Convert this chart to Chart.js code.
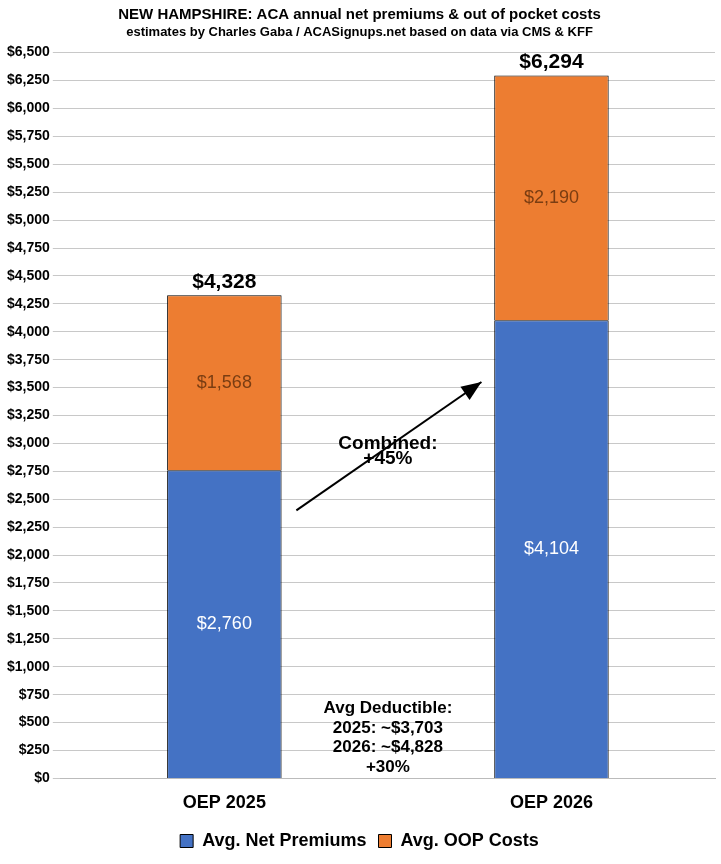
<!DOCTYPE html>
<html>
<head>
<meta charset="utf-8">
<script src="https://cdn.jsdelivr.net/npm/chart.js@4"></script>
<style>
  html, body { margin: 0; padding: 0; background: #fff; }
  #wrap { width: 721px; height: 864px; }
</style>
</head>
<body>
<div id="wrap"><canvas id="myChart" width="721" height="864"></canvas></div>
<script>
const categories = ['OEP 2025', 'OEP 2026'];
const netPremiums = [2760, 4104];
const oopCosts = [1568, 2190];
const totals = [4328, 6294];
const deductibleLines = ['Avg Deductible:', '2025: ~$3,703', '2026: ~$4,828', '+30%'];

const money = v => '$' + v.toLocaleString('en-US');
const FONT = '"Liberation Sans", Arial, sans-serif';

const extras = {
  id: 'extras',
  afterDatasetsDraw(chart) {
    const ctx = chart.ctx;
    const x = chart.scales.x, y = chart.scales.y;
    ctx.save();
    ctx.textAlign = 'center';
    ctx.textBaseline = 'middle';
    // segment labels
    ctx.font = '18px ' + FONT;
    for (let i = 0; i < categories.length; i++) {
      const cx = x.getPixelForValue(i);
      ctx.fillStyle = '#ffffff';
      ctx.fillText(money(netPremiums[i]), cx, y.getPixelForValue(netPremiums[i] / 2));
      ctx.fillStyle = '#7a3d12';
      ctx.fillText(money(oopCosts[i]), cx, y.getPixelForValue(netPremiums[i] + oopCosts[i] / 2));
      ctx.fillStyle = '#000';
      ctx.font = 'bold 21px ' + FONT;
      ctx.fillText(money(totals[i]), cx, y.getPixelForValue(totals[i]) - 13);
      ctx.font = '18px ' + FONT;
    }
    // arrow
    const x0 = x.getPixelForValue(0) + 72, y0 = y.getPixelForValue(2400);
    const x1 = x.getPixelForValue(1) - 70, y1 = y.getPixelForValue(3550);
    ctx.strokeStyle = '#000';
    ctx.lineWidth = 2;
    ctx.beginPath(); ctx.moveTo(x0, y0); ctx.lineTo(x1, y1); ctx.stroke();
    const a = Math.atan2(y1 - y0, x1 - x0);
    ctx.fillStyle = '#000';
    ctx.beginPath();
    ctx.moveTo(x1, y1);
    ctx.lineTo(x1 - 20 * Math.cos(a) + 8 * Math.sin(a), y1 - 20 * Math.sin(a) - 8 * Math.cos(a));
    ctx.lineTo(x1 - 20 * Math.cos(a) - 8 * Math.sin(a), y1 - 20 * Math.sin(a) + 8 * Math.cos(a));
    ctx.closePath(); ctx.fill();
    const mx = (x.getPixelForValue(0) + x.getPixelForValue(1)) / 2 + 0;
    ctx.font = 'bold 19px ' + FONT;
    ctx.fillText('Combined:', mx, y.getPixelForValue(3000));
    ctx.fillText('+45%', mx, y.getPixelForValue(2900) + 4);
    // deductible
    ctx.font = 'bold 17px ' + FONT;
    deductibleLines.forEach((t, k) => ctx.fillText(t, mx, y.getPixelForValue(0) - 70 + k * 19.5));
    ctx.restore();
  }
};

new Chart(document.getElementById('myChart').getContext('2d'), {
  type: 'bar',
  data: {
    labels: categories,
    datasets: [
      { label: 'Avg. Net Premiums', data: netPremiums, backgroundColor: '#4472c4', borderColor: '#000', borderWidth: 1 },
      { label: 'Avg. OOP Costs', data: oopCosts, backgroundColor: '#ed7d31', borderColor: '#000', borderWidth: 1 }
    ]
  },
  options: {
    responsive: false,
    animation: false,
    layout: { padding: { left: 4, right: 6, top: 0, bottom: 4 } },
    datasets: { bar: { barPercentage: 0.35, categoryPercentage: 1 } },
    plugins: {
      title: {
        display: true,
        text: ['NEW HAMPSHIRE: ACA annual net premiums & out of pocket costs'],
        color: '#000', font: { family: FONT, size: 15, weight: 'bold' },
        padding: { top: 6, bottom: 0 }
      },
      subtitle: {
        display: true,
        text: 'estimates by Charles Gaba / ACASignups.net based on data via CMS & KFF',
        color: '#000', font: { family: FONT, size: 13, weight: 'bold' },
        padding: { top: 1, bottom: 12 }
      },
      legend: {
        position: 'bottom',
        labels: { color: '#000', font: { family: FONT, size: 18, weight: 'bold' }, boxWidth: 13, boxHeight: 13, padding: 12 }
      },
      tooltip: { enabled: false }
    },
    scales: {
      x: {
        stacked: true,
        grid: { display: false },
        border: { color: '#bbb' },
        ticks: { color: '#000', font: { family: FONT, size: 18, weight: 'bold' }, padding: 6 }
      },
      y: {
        stacked: true,
        min: 0, max: 6500,
        ticks: { stepSize: 250, color: '#000', font: { family: FONT, size: 14, weight: 'bold' }, callback: v => money(v) },
        grid: { color: '#c8c8c8' },
        border: { display: false }
      }
    }
  },
  plugins: [extras]
});
</script>
</body>
</html>
